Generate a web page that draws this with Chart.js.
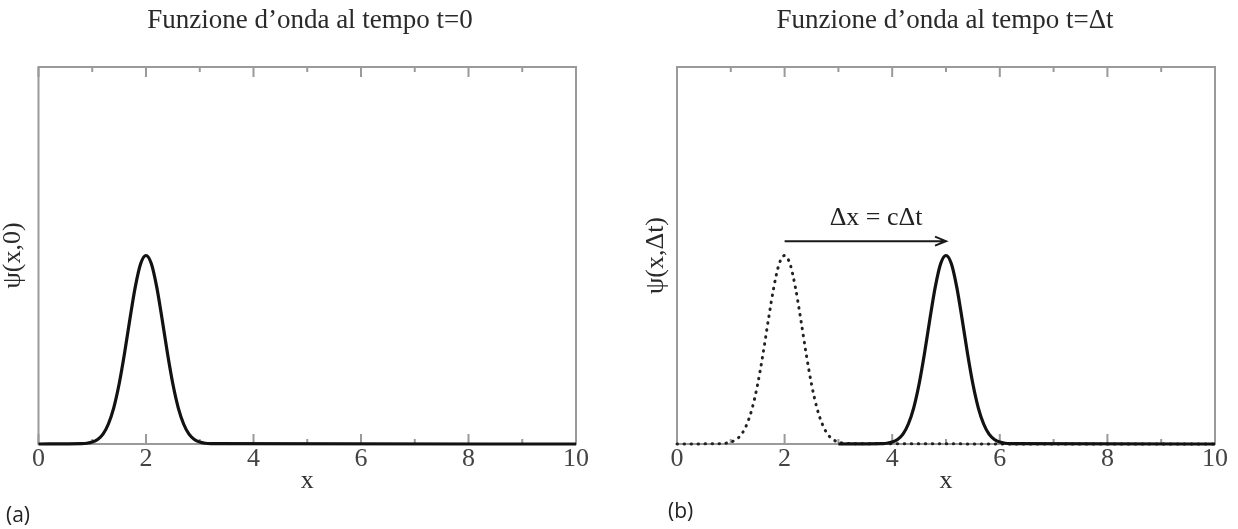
<!DOCTYPE html>
<html>
<head>
<meta charset="utf-8">
<script src="https://cdn.jsdelivr.net/npm/chart.js@4"></script>
<style>
  body { margin: 0; background: #fff; width: 1238px; height: 529px; position: relative; overflow: hidden; }
  .box { position: absolute; top: 0; height: 529px; }
  #boxA { left: 0; width: 620px; }
  #boxB { left: 640px; width: 610px; }
  .tag { position: absolute; font-family: "Open Sans", sans-serif; font-size: 21px; line-height: 1; color: #222; }
</style>
</head>
<body>
<div class="box" id="boxA"><canvas id="chartA"></canvas></div>
<div class="box" id="boxB"><canvas id="chartB"></canvas></div>
<div class="tag" style="left:6px; top:504px;">(a)</div>
<div class="tag" style="left:668px; top:500px;">(b)</div>
<script>
// x samples of the pulse at t=0 (centred on x=2)
var xPulse = [0, 0.8, 0.9, 1.0, 1.1, 1.2, 1.3, 1.4, 1.5, 1.6, 1.7, 1.8, 1.9, 2.0,
              2.1, 2.2, 2.3, 2.4, 2.5, 2.6, 2.7, 2.8, 2.9, 3.0, 3.1, 3.2, 10];
var psiPulse = [0, 0.001, 0.002, 0.005, 0.012, 0.026, 0.053, 0.096, 0.159, 0.240, 0.331, 0.416, 0.478, 0.5,
                0.478, 0.416, 0.331, 0.240, 0.159, 0.096, 0.053, 0.026, 0.012, 0.005, 0.002, 0.001, 0];
// same pulse after Δt (centred on x=5), drawn from x=3 on
var xMoved = [3.0, 3.8, 3.9, 4.0, 4.1, 4.2, 4.3, 4.4, 4.5, 4.6, 4.7, 4.8, 4.9, 5.0,
              5.1, 5.2, 5.3, 5.4, 5.5, 5.6, 5.7, 5.8, 5.9, 6.0, 6.1, 6.2, 10];
var psiMoved = [0, 0.001, 0.002, 0.005, 0.012, 0.026, 0.053, 0.096, 0.159, 0.240, 0.331, 0.416, 0.478, 0.5,
                0.478, 0.416, 0.331, 0.240, 0.159, 0.096, 0.053, 0.026, 0.012, 0.005, 0.002, 0.001, 0];
var xTicks = [0, 2, 4, 6, 8, 10];
var arrowFrom = [2, 0.538];
var arrowTo = [5, 0.538];
var arrowLabel = "Δx = cΔt";
var arrowLabelAt = [3.7, 0.598];

var serif = "'Liberation Serif', 'Times New Roman', serif";

function pts(xs, ys) {
  return xs.map(function (x, i) { return { x: x, y: ys[i] }; });
}

// frame with inward ticks, like the gnuplot box
var frameTicks = {
  id: "frameTicks",
  beforeDatasetsDraw: function (chart) {
    var a = chart.chartArea, ctx = chart.ctx, sx = chart.scales.x;
    ctx.save();
    ctx.strokeStyle = "#9a9a9a";
    ctx.lineWidth = 2;
    ctx.strokeRect(a.left, a.top, a.right - a.left, a.bottom - a.top);
    for (var v = sx.min; v <= sx.max; v++) {
      var px = sx.getPixelForValue(v);
      var len = v % 2 === 0 ? 10 : 5;
      ctx.beginPath();
      ctx.moveTo(px, a.bottom); ctx.lineTo(px, a.bottom - len);
      ctx.moveTo(px, a.top); ctx.lineTo(px, a.top + len);
      ctx.stroke();
    }
    ctx.restore();
  }
};

var shiftArrow = {
  id: "shiftArrow",
  afterDatasetsDraw: function (chart) {
    if (!chart.options.plugins.shiftArrow.show) return;
    var sx = chart.scales.x, sy = chart.scales.y, ctx = chart.ctx;
    var x0 = sx.getPixelForValue(arrowFrom[0]), y0 = sy.getPixelForValue(arrowFrom[1]);
    var x1 = sx.getPixelForValue(arrowTo[0]), y1 = sy.getPixelForValue(arrowTo[1]);
    ctx.save();
    ctx.strokeStyle = "#1a1a1a";
    ctx.lineWidth = 2;
    ctx.beginPath();
    ctx.moveTo(x0, y0); ctx.lineTo(x1, y1);
    ctx.moveTo(x1 - 11, y1 - 4.5); ctx.lineTo(x1, y1); ctx.lineTo(x1 - 11, y1 + 4.5);
    ctx.stroke();
    ctx.fillStyle = "#222";
    ctx.font = "26px " + serif;
    ctx.textAlign = "center";
    ctx.textBaseline = "middle";
    ctx.fillText(arrowLabel, sx.getPixelForValue(arrowLabelAt[0]), sy.getPixelForValue(arrowLabelAt[1]));
    ctx.restore();
  }
};

function makeOptions(title, yTitle, yPad, rightWidth, arrow) {
  return {
    responsive: true,
    maintainAspectRatio: false,
    animation: false,
    layout: { padding: { left: 0, right: 0, top: 0, bottom: 41.8 } },
    plugins: {
      legend: { display: false },
      tooltip: { enabled: false },
      title: {
        display: true, text: title, color: "#2a2a2a",
        font: { family: serif, size: 27, weight: "normal", lineHeight: 1.2 },
        padding: { top: 4.5, bottom: 30.1 }
      },
      shiftArrow: { show: arrow }
    },
    scales: {
      x: {
        type: "linear", min: 0, max: 10,
        afterBuildTicks: function (s) { s.ticks = xTicks.map(function (v) { return { value: v }; }); },
        ticks: { color: "#444", padding: 5, maxRotation: 0, font: { family: serif, size: 26, lineHeight: 0.8 } },
        grid: { display: false, drawTicks: false },
        border: { display: false },
        title: { display: true, text: "x", color: "#333", padding: { top: 0, bottom: 0 },
                 font: { family: serif, size: 26, lineHeight: 0.477 } }
      },
      y: {
        min: 0, max: 1,
        ticks: { display: false },
        grid: { display: false, drawTicks: false },
        border: { display: false },
        title: { display: true, text: yTitle, color: "#2a2a2a", padding: yPad,
                 font: { family: serif, size: 26, lineHeight: 1 } }
      },
      y2: {
        position: "right", min: 0, max: 1,
        ticks: { display: false },
        grid: { display: false, drawTicks: false },
        border: { display: false },
        afterFit: function (s) { s.width = rightWidth; }
      }
    }
  };
}

new Chart("chartA", {
  type: "line",
  data: {
    datasets: [{
      data: pts(xPulse, psiPulse),
      borderColor: "#121212", borderWidth: 3.2, pointRadius: 0,
      cubicInterpolationMode: "monotone", clip: false
    }]
  },
  options: makeOptions("Funzione d’onda al tempo t=0", "ψ(x,0)", { top: 0, bottom: 12.5 }, 44, false),
  plugins: [frameTicks, shiftArrow]
});

new Chart("chartB", {
  type: "line",
  data: {
    datasets: [{
      data: pts(xMoved, psiMoved),
      borderColor: "#121212", borderWidth: 3.2, pointRadius: 0,
      cubicInterpolationMode: "monotone", clip: false
    }, {
      data: pts(xPulse, psiPulse),
      borderColor: "#222", borderWidth: 3, borderDash: [0.5, 6.5], borderCapStyle: "round",
      pointRadius: 0, cubicInterpolationMode: "monotone", clip: false
    }]
  },
  options: makeOptions("Funzione d’onda al tempo t=Δt", "ψ(x,Δt)", { top: 3, bottom: 8 }, 35, true),
  plugins: [frameTicks, shiftArrow]
});
</script>
</body>
</html>
